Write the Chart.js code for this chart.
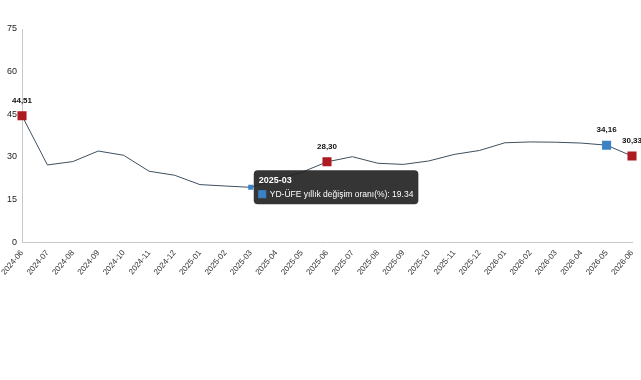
<!DOCTYPE html>
<html>
<head>
<meta charset="utf-8">
<script src="https://cdn.jsdelivr.net/npm/chart.js@4/dist/chart.umd.min.js"></script>
<style>
  html, body { margin:0; padding:0; background:#fff; }
  #wrap { width:641px; height:380px; position:relative; }
</style>
</head>
<body>
<div id="wrap"><canvas id="ufeChart"></canvas></div>
<script>
// ---------- DATA ----------
const months = ['2024-06','2024-07','2024-08','2024-09','2024-10','2024-11','2024-12',
  '2025-01','2025-02','2025-03','2025-04','2025-05','2025-06','2025-07','2025-08','2025-09',
  '2025-10','2025-11','2025-12','2026-01','2026-02','2026-03','2026-04','2026-05','2026-06'];
const ufeValues = [44.51, 27.2, 28.4, 32.1, 30.6, 25.0, 23.6, 20.3, 19.8, 19.34, 22.0, 24.6,
  28.30, 30.1, 27.8, 27.4, 28.6, 30.9, 32.3, 35.0, 35.3, 35.2, 34.9, 34.16, 30.33];
const yTicks = [0, 15, 30, 45, 60, 75];
const seriesName = 'YD-ÜFE yıllık değişim oranı(%)';
const redPoints = [0, 12, 24];    // kırmızı kare
const bluePoints = [23];          // mavi kare
const hoverPoint = 9;             // tooltip gösterilen nokta
const labelPoints = [0, 12, 23, 24];

const RED = '#ad1a22', BLUE = '#3a82c4', LINE = '#3e4f5e';
const FONT = '"Liberation Sans", Arial, sans-serif';

const radii = months.map((m, i) =>
  redPoints.includes(i) || bluePoints.includes(i) ? 6.4 : (i === hoverPoint ? 3.6 : 0));
const colors = months.map((m, i) => redPoints.includes(i) ? RED : BLUE);

// veri etiketleri (virgüllü)
const valueLabels = {
  id: 'valueLabels',
  afterDatasetsDraw(chart) {
    const ctx = chart.ctx, meta = chart.getDatasetMeta(0);
    ctx.save();
    ctx.font = 'bold 8px ' + FONT;
    ctx.fillStyle = '#111';
    ctx.textAlign = 'center';
    ctx.textBaseline = 'bottom';
    labelPoints.forEach(i => {
      const p = meta.data[i];
      ctx.fillText(ufeValues[i].toFixed(2).replace('.', ','), p.x, p.y - 11);
    });
    ctx.restore();
  }
};

const chart = new Chart(document.getElementById('ufeChart'), {
  type: 'line',
  data: {
    labels: months,
    datasets: [{
      label: seriesName,
      data: ufeValues,
      borderColor: LINE,
      borderWidth: 1,
      tension: 0,
      fill: false,
      pointStyle: 'rect',
      pointRadius: radii,
      pointHoverRadius: radii,
      pointBackgroundColor: colors,
      pointBorderColor: colors,
      pointBorderWidth: 0
    }]
  },
  options: {
    responsive: true,
    maintainAspectRatio: false,
    animation: false,
    events: [],
    layout: { padding: { top: 29, right: 9, bottom: 97, left: 2 } },
    plugins: {
      legend: { display: false },
      tooltip: {
        enabled: true,
        backgroundColor: 'rgba(36,36,36,0.92)',
        titleFont: { family: FONT, size: 9, weight: 'bold' },
        bodyFont: { family: FONT, size: 8.5 },
        titleColor: '#fff', bodyColor: '#fff',
        padding: { left: 5, right: 5, top: 5, bottom: 5 },
        titleMarginBottom: 3,
        cornerRadius: 4,
        caretSize: 0,
        caretPadding: 3,
        xAlign: 'left', yAlign: 'center',
        boxWidth: 7, boxHeight: 7, boxPadding: 2,
        multiKeyBackground: BLUE,
        callbacks: {
          label: c => `${c.dataset.label}: ${c.parsed.y}`,
          labelColor: () => ({ backgroundColor: BLUE, borderColor: BLUE, borderWidth: 0 })
        }
      }
    },
    scales: {
      x: {
        offset: false,
        grid: { display: false, drawTicks: false },
        border: { color: '#c8c8c8' },
        afterFit: s => { s.paddingRight = 0; s.paddingLeft = 0; },
        ticks: {
          autoSkip: false, minRotation: 50, maxRotation: 50, padding: 6,
          color: '#333', font: { family: FONT, size: 8 }
        }
      },
      y: {
        min: 0, max: 75,
        afterBuildTicks: s => { s.ticks = yTicks.map(v => ({ value: v })); },
        grid: { display: false, drawTicks: false },
        border: { color: '#c8c8c8' },
        ticks: {
          padding: 5, color: '#222',
          font: { family: FONT, size: 9 }
        }
      }
    }
  },
  plugins: [valueLabels]
});

// 2025-03 tooltip'i göster
const hp = chart.getDatasetMeta(0).data[hoverPoint];
chart.tooltip.setActiveElements([{ datasetIndex: 0, index: hoverPoint }], { x: hp.x, y: hp.y });
chart.update();
</script>
</body>
</html>
